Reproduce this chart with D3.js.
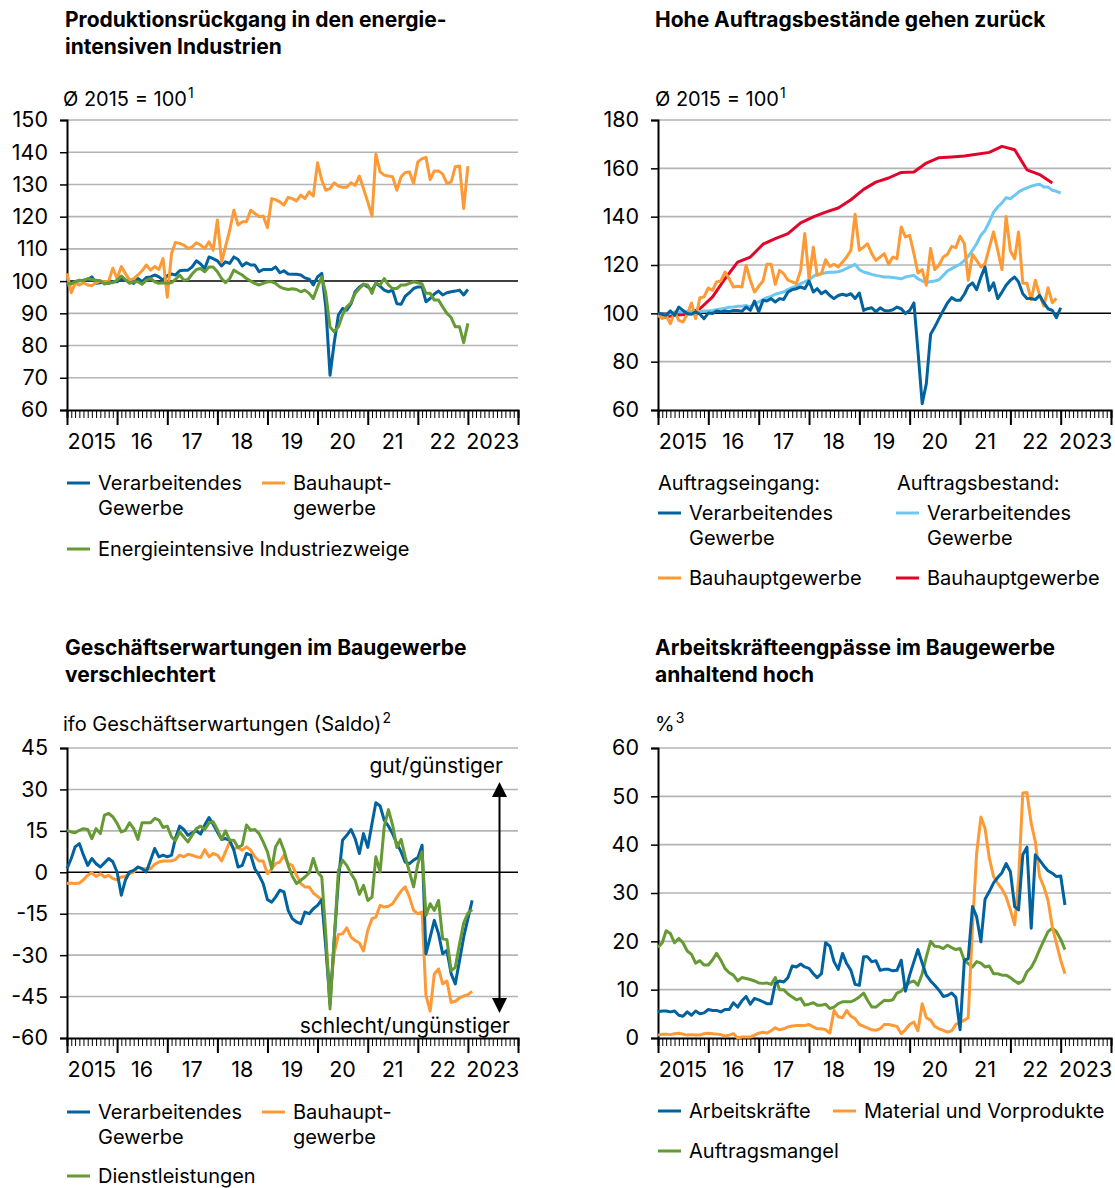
<!DOCTYPE html>
<html>
<head>
<meta charset="utf-8">
<script src="https://cdn.jsdelivr.net/npm/d3@7"></script>
<style>
  body { margin: 0; background: #fff; }
  svg { font-family: Inter, "Liberation Sans", sans-serif; }
</style>
</head>
<body>
<svg width="1115" height="1188"></svg>
<script>
// Colours
const BLUE = "#00629e", ORANGE = "#fd9a35", GREEN = "#669a35", LIGHTBLUE = "#6cc8f0", RED = "#e2052b";
const GRID = "#b4b4b4";
const TICK_FONT = 21.5;

// Year labels under the x axis
const yearLabels = ["2015", "16", "17", "18", "19", "20", "21", "22", "2023"];

// Panel 1: Produktion, monthly from Jan 2015 (Ø 2015 = 100)
const prodVerarbeitend = [98.4, 99.5, 99.8, 100.1, 100.3, 100.5, 101.3, 99.3, 99.5, 99.8,
  99.3, 99.8, 99.8, 100.8, 100.3, 99.8, 99.3, 100.8, 99.8, 101.1,
  101.3, 101.9, 101.3, 100.3, 101.7, 102.2, 101.9, 103.2, 103.4, 103.4,
  104.4, 106.3, 105.3, 103.9, 107.5, 107, 106.3, 104.7, 106, 105.5,
  107.5, 106.7, 104.7, 105.7, 105, 105, 102.9, 103.6, 103.6, 103.6,
  104.4, 102.6, 103.2, 102.2, 102.1, 102.1, 101.9, 101, 100.6, 98.8,
  101.3, 102.4, 92, 70.8, 80.7, 89.5, 91.5, 91, 93, 96.7,
  98.2, 99, 98.2, 97.2, 99.3, 98.4, 97.2, 96.7, 97.2, 93,
  92.8, 95.3, 96.4, 97.7, 98.2, 98.2, 93.6, 94.6, 96, 96.9,
  95.7, 96.4, 96.7, 96.9, 97.2, 95.7, 97.4];
const prodBau = [102.4, 96.4, 99.3, 98.8, 99.5, 98.8, 98.6, 99.5, 100, 99.8,
  100, 104, 100.8, 104.5, 102.4, 100.3, 100.8, 101.9, 103.2, 105,
  103.4, 104.5, 103.6, 107, 95, 108.6, 112, 111.7, 111.2, 110.1,
  110.6, 111.9, 111.2, 110.1, 112.2, 109.6, 119, 106, 110.6, 115.8,
  122, 117.4, 118.4, 118.4, 122, 121, 120, 120.2, 116.6, 125.6,
  125.3, 124.6, 123.6, 126, 125.6, 124.9, 126.7, 125.6, 127.7, 126.4,
  136.7, 131.3, 128.2, 128.7, 130.5, 129.5, 129.1, 129.1, 130.5, 129.7,
  132.6, 128.7, 124.6, 120.2, 139.4, 133.9, 132.9, 132.6, 132.4, 128.2,
  132.4, 133.7, 133.9, 130.3, 137, 138, 138.4, 131.5, 134.2, 134.2,
  133.2, 130.3, 130.8, 135.5, 135.7, 122.5, 135.7];
const prodEnergie = [99.3, 99.1, 99.8, 100.3, 100.1, 100.8, 100.5, 100.3, 100.1, 99.1,
  99.5, 99.5, 100.3, 101.6, 100.5, 99.3, 99.8, 99.8, 99, 100.3,
  100.8, 99.8, 99.3, 99.5, 99.3, 99.5, 100.5, 101.9, 100.3, 100.5,
  102.2, 103.6, 103.9, 102.9, 104.4, 104.4, 102.9, 100.8, 99.5, 100.8,
  103.4, 102.6, 101.9, 100.8, 100, 99.3, 98.8, 99.3, 99.8, 99.8,
  99.3, 98.2, 97.7, 97.4, 97.6, 97.4, 96.7, 97.2, 96.2, 94.6,
  98.2, 101.3, 96.2, 85.8, 84.3, 85.8, 89.5, 92, 93.3, 96.2,
  97.7, 99, 98.8, 96.2, 99.5, 98.8, 100.8, 98.8, 97.7, 97.7,
  98.8, 98.8, 99.3, 99.8, 99.5, 99.1, 96.2, 96.2, 94.1, 94.1,
  92, 90, 88.7, 85.8, 85.8, 80.9, 86.9];

// Panel 2: Auftragseingang (monthly) und Auftragsbestand
const eingangVerarbeitend = [100.1, 99.6, 99.2, 101, 99.2, 102.6, 101.2, 99.9, 99.6, 100.6,
  99.6, 97.8, 100.1, 99.9, 101, 100.6, 101, 100.7, 101.2, 101.2,
  100.8, 102.6, 101.2, 105.1, 100.6, 105.4, 105.1, 106.1, 104.7, 106.1,
  105.7, 108.8, 109.8, 110.2, 110.9, 110.2, 113.4, 108.8, 110.2, 108.1,
  109.2, 107.4, 106.1, 107.4, 107.9, 107.4, 108.1, 106.1, 108.4, 101.2,
  101.9, 102.3, 100.6, 102.3, 101.2, 101, 101.5, 102.6, 101.9, 99.9,
  101.2, 104.3, 84.7, 62.6, 70.9, 91.3, 94.3, 97.8, 101.2, 104.3,
  106.5, 105.4, 105.4, 107.9, 111.2, 112.6, 109.8, 115, 119.2, 109.5,
  112.6, 106.1, 108.8, 111.6, 113.7, 115, 113, 108.1, 106.1, 106.1,
  105.7, 107.4, 104.3, 101.9, 101.2, 98.2, 102.3];
const eingangBau = [99.2, 97.8, 99.2, 95.7, 100.6, 97.1, 96.4, 99.6, 104.3, 97.8,
  106.5, 106.8, 110.5, 109.5, 113, 113.4, 117.1, 114.3, 110.9, 111.2,
  110.9, 119.9, 113.7, 108.8, 111.2, 113.4, 120.3, 120.3, 112, 117.8,
  116.4, 113.7, 113, 112.3, 117.8, 133, 114.3, 127.4, 115.7, 116.4,
  122.2, 119.4, 120.3, 119.2, 121.2, 123.3, 126.1, 141, 126.1, 127.4,
  128.8, 124.7, 121.9, 123.3, 124.7, 120.3, 123.3, 122.6, 135.7, 131.6,
  132.3, 124.7, 116.7, 118.1, 111.6, 126.8, 118.1, 119.9, 123.3, 124.4,
  127.7, 127.2, 131.9, 128.8, 113.7, 124.4, 121.9, 119.2, 120.6, 127.2,
  133.7, 126.1, 118.1, 140.1, 125.8, 122.6, 133.7, 112.5, 112.5, 105.6,
  113.7, 107.5, 103, 110.6, 104.4, 106.2];
const bestandVerarbeitend = [99.6, 99.2, 99.6, 99.9, 100.3, 100.6, 100.6, 100.8, 100.8, 100.8,
  100.8, 101, 101, 101.2, 101.5, 101.8, 102.1, 102.5, 102.6, 102.9,
  102.9, 103.3, 102.6, 104, 104.7, 105.7, 106.5, 107, 107.9, 108.4,
  108.8, 109.8, 110.6, 111.3, 112.3, 113, 113.9, 115.3, 116.1, 116.4,
  116.8, 117, 117, 117.2, 117.8, 118.6, 119.4, 120.3, 118.1, 117.1,
  116.7, 116.1, 115.7, 115.4, 115, 115, 114.8, 114.6, 114.3, 115,
  115.4, 115.7, 114.3, 113.4, 112.6, 113.2, 113.4, 113.9, 115.7, 117.5,
  118.5, 119.4, 120.3, 121.9, 123.6, 126.1, 128.8, 132.3, 134.3, 137.8,
  141.9, 144, 145.7, 147.9, 147.4, 148.8, 150.2, 151.2, 151.9, 152.6,
  153.1, 153.4, 152.3, 152.3, 150.9, 150.5, 149.8];
// quarterly, plotted at the middle month of each quarter
const bestandBau = [98.2, 99.2, 99.6, 101.9, 106.8, 114.3, 121.2, 123.3, 128.6, 130.9,
  133, 137.4, 139.9, 141.9, 143.6, 147, 151.3, 154.3, 156, 158.3,
  158.5, 162.2, 164.4, 164.7, 165.1, 165.8, 166.6, 169.1, 167.7, 159.4,
  157.4, 153.9];

// Panel 3: ifo Geschäftserwartungen (Saldo), monthly from Jan 2015
const erwVerarbeitend = [1.3, 5, 9.2, 10.4, 6.2, 2.5, 5, 3.1, 1.9, 3.4,
  5, 3.8, 0.1, -8.3, -2.9, 0.1, 0.7, 1.9, 1.3, 0.1,
  4.4, 8.6, 5.6, 6.2, 5.6, 6.2, 12.2, 16.7, 15.5, 13.4,
  14.3, 15, 13.8, 17.1, 19.8, 17.4, 14.6, 11.9, 12.2, 11.6,
  8, 1.9, 2.5, 6.8, 6.2, 1.3, -1.1, -4.1, -9.9, -10.8,
  -9, -6.5, -7.1, -13.8, -16.8, -18, -18.6, -14.4, -15, -13.2,
  -12, -9.9, -27.1, -47.7, -24.7, -2.9, 11.6, 13.4, 15.5, 12.2,
  6.8, 14, 9, 17.7, 25.2, 24, 18.9, 16.7, 14, 10.4,
  7.4, 3.7, 3.1, 4.4, 5.3, 9.8, -29.5, -23.5, -17.4, -22.3,
  -29.5, -28.3, -36.8, -40.4, -31.9, -23.5, -16.8, -10.2];
const erwBau = [-4.1, -3.9, -4.1, -3.9, -2.7, -1.1, -0.2, -1.5, -0.5, -1.7,
  -1.1, -2.3, -2.7, -1.7, -1.5, -0.5, 0.1, 1.9, 1.3, 1.3,
  1.3, 2.9, 3.7, 4.1, 4.1, 4.1, 4.6, 6.2, 5.6, 6.5,
  6.2, 5.6, 5.3, 8.2, 5.6, 6.8, 6.2, 4.1, 7.4, 11,
  8.6, 9, 8, 9.2, 8, 5.6, 4.1, 4.1, -0.5, 1.3,
  3.1, 3.7, 6.2, 3.1, 2.5, -1, -4.1, -5.3, -5.3, -7.5,
  -8.7, -9.9, -24.7, -44, -29.5, -22.5, -22.3, -20.1, -23.5, -24.7,
  -25.6, -28.5, -21, -16.8, -16.2, -12, -12.6, -12.3, -11.4, -9,
  -6.8, -5.3, -9, -13.8, -15, -14.4, -44.6, -50.3, -36.8, -35,
  -40.4, -39.4, -47.1, -46.7, -45.5, -44.8, -44.3, -43.1];
const erwDienst = [15.2, 14.6, 14.3, 15.2, 15.8, 15.5, 12.2, 15.8, 14, 20.7,
  21.3, 20.1, 17.7, 14.6, 15.2, 17.9, 15.8, 11.9, 17.9, 17.9,
  17.9, 19.5, 18.9, 16.2, 16.7, 12.8, 11.4, 14.6, 12.8, 11,
  13.4, 15.8, 16.7, 15.5, 17.9, 18.3, 15.5, 11.9, 15, 11.6,
  11.6, 9, 9.8, 17.1, 15.2, 15.5, 14, 11, 7.4, 1.3,
  9.2, 11.9, 8, 2.5, -1.4, -4.1, -2.9, -1.7, -0.2, 5,
  0.1, -1.7, -22.3, -49.5, -24.7, 0.7, 4.4, 2.5, -0.5, -2.9,
  -8, -4.7, -10.2, -9, 5.6, 0.1, 16.5, 22.7, 17.1, 9,
  11.9, 5.6, 0.1, -5.3, 3.1, 7.4, -15.6, -11.4, -13.8, -10.2,
  -24.1, -24.4, -35.6, -34.4, -25.9, -18.4, -14.8, -13.5];

// Panel 4: Produktionsbehinderungen im Bau in %, monthly from Jan 2015
const engpassArbeit = [5.4, 5.6, 5.6, 5.4, 5.6, 4.7, 4.5, 5.4, 4.7, 5.6,
  5, 5.2, 5.9, 5.7, 5.7, 5.4, 5.9, 5.9, 7.3, 6.4,
  7.7, 8.6, 7, 8.2, 7.9, 7.5, 7.1, 7.1, 11.3, 11.8,
  11.6, 12.5, 14.9, 14.7, 15.3, 14.7, 14.4, 13.3, 12.5, 13.3,
  19.7, 19, 15.8, 14.2, 17.5, 15.4, 14, 11.1, 10.9, 16.8,
  16.8, 15.8, 16, 14, 14.2, 14.2, 13.9, 14, 16.1, 9.7,
  13, 15.8, 18.3, 15.5, 13, 11.8, 10.9, 9.9, 8.6, 8.8,
  9.3, 8.4, 1.7, 16.1, 16.4, 27.2, 25.1, 19.9, 28.7, 30.3,
  32.1, 33.2, 34.2, 36.1, 34.4, 27.2, 26.5, 37.9, 39.5, 22.7,
  37.9, 36.8, 35.6, 34.6, 34.1, 33.4, 33.5, 27.5];
const engpassMaterial = [0.6, 0.8, 0.8, 0.7, 0.9, 1, 0.8, 0.6, 0.7, 0.6,
  0.6, 0.9, 1, 0.9, 0.8, 0.7, 0.4, 0.6, 0.9, 0,
  0.2, 0.2, 0.2, 0.6, 1, 1.2, 1, 1.5, 2.1, 1.7,
  1.9, 2.3, 2.5, 2.6, 2.6, 2.6, 2.8, 2.3, 1.9, 1.9,
  1.7, 1, 5.7, 4.4, 4.2, 5.7, 4.5, 4, 2.8, 2.4,
  2.1, 1.7, 1.6, 1.9, 2.8, 2.8, 2.6, 2.4, 0.9, 1.7,
  2.8, 3.3, 1.5, 7.1, 4.2, 3.7, 2.4, 1.9, 1.6, 1.2,
  1.5, 2.8, 3.2, 3.7, 4.2, 23, 38.2, 45.7, 43.4, 37.2,
  33.4, 32, 30.8, 29.2, 26.5, 23.4, 32.7, 50.7, 50.8, 44.4,
  40.6, 33.4, 31.3, 28.5, 23, 19.6, 16.1, 13.3];
const engpassAuftrag = [18.7, 19.7, 22.2, 21.6, 19.7, 20.6, 19.7, 18, 17.3, 15.5,
  16, 15.1, 15.1, 16.2, 17.5, 16.1, 14.4, 13.5, 13, 11.8,
  12.5, 12.3, 12.1, 11.8, 11.4, 11.3, 11.4, 11.1, 12.5, 10,
  10, 9.1, 8.5, 7.9, 8.2, 6.8, 7, 7.3, 6.8, 6.8,
  7, 6.1, 6.4, 7.1, 7.5, 7.5, 7.5, 7.9, 8.5, 9.3,
  7.8, 6.4, 6.4, 7.1, 7.8, 7.7, 7.9, 9.3, 9.7, 10.7,
  11.5, 11.8, 10.9, 13.3, 16.8, 20, 19, 18.9, 18.5, 19.2,
  18.7, 18.3, 18.5, 16.1, 15.4, 14.7, 15.8, 15.5, 14.7, 14.9,
  13.3, 13.3, 13, 13, 12.5, 11.8, 11.3, 11.8, 13.7, 14.6,
  16.2, 18.3, 20.2, 22, 22.7, 22, 20.4, 18.3];

// date helpers
const monthly = values => values.map((v, i) => ({ date: new Date(2015, i, 1), value: v }));
const quarterly = values => values.map((v, i) => ({ date: new Date(2015, 1 + 3 * i, 1), value: v }));

const svg = d3.select("svg");

function drawPanel(p) {
  const g = svg.append("g");
  const x = d3.scaleTime()
    .domain([new Date(2015, 0, 1), new Date(2024, 0, 1)])
    .range([p.left, p.right]);
  const y = d3.scaleLinear().domain(p.yDomain).range([p.bottom, p.top]);

  // horizontal grid lines
  g.append("g").selectAll("line")
    .data(p.yTicks.filter(d => d !== p.yDomain[0] && d !== p.refLine))
    .join("line")
    .attr("x1", p.left).attr("x2", p.right)
    .attr("y1", d => y(d)).attr("y2", d => y(d))
    .attr("stroke", GRID).attr("stroke-width", 1.6);

  // reference line (100 or 0)
  if (p.refLine !== undefined) {
    g.append("line")
      .attr("x1", p.left).attr("x2", p.right)
      .attr("y1", y(p.refLine)).attr("y2", y(p.refLine))
      .attr("stroke", "#000").attr("stroke-width", 1.5);
  }

  // y axis
  const yAxis = g.append("g")
    .attr("transform", `translate(${p.left},0)`)
    .call(d3.axisLeft(y).tickValues(p.yTicks).tickSize(7).tickPadding(12)
      .tickFormat(d => String(d)));
  yAxis.select(".domain").attr("stroke-width", 2);
  yAxis.selectAll(".tick line").attr("stroke-width", 1.5);
  yAxis.selectAll("text").attr("font-size", TICK_FONT).attr("fill", "#000")
    .attr("font-family", "Inter, 'Liberation Sans', sans-serif");

  // x axis: monthly minor ticks, yearly major ticks
  const xMinor = g.append("g")
    .attr("transform", `translate(0,${p.bottom})`)
    .call(d3.axisBottom(x).ticks(d3.timeMonth.every(1)).tickSize(8).tickFormat(""));
  xMinor.select(".domain").attr("stroke-width", 2);
  xMinor.selectAll(".tick line").attr("stroke-width", 1);
  const xMajor = g.append("g")
    .attr("transform", `translate(0,${p.bottom})`)
    .call(d3.axisBottom(x).ticks(d3.timeYear.every(1)).tickSize(15).tickFormat(""));
  xMajor.select(".domain").remove();
  xMajor.selectAll(".tick line").attr("stroke-width", 2);

  // year labels centred on each year
  g.append("g").selectAll("text")
    .data(yearLabels)
    .join("text")
    .attr("x", (d, i) => x(new Date(2015 + i, 6, 1)))
    .attr("y", p.bottom + 39)
    .attr("text-anchor", "middle")
    .attr("font-size", TICK_FONT)
    .text(d => d);

  // series lines
  const line = d3.line().x(d => x(d.date)).y(d => y(d.value));
  p.series.forEach(s => {
    g.append("path")
      .datum(s.data)
      .attr("d", line)
      .attr("fill", "none")
      .attr("stroke", s.color)
      .attr("stroke-width", 3)
      .attr("stroke-linejoin", "round");
  });
  return { g, x, y };
}

function addText(x, y, txt, opts = {}) {
  const t = svg.append("text")
    .attr("x", x).attr("y", y)
    .attr("font-size", opts.size || 20)
    .attr("font-weight", opts.bold ? 700 : 400)
    .attr("text-anchor", opts.anchor || "start")
    .text(txt);
  if (opts.sup) {
    t.append("tspan").attr("font-size", 14).attr("dx", 1).attr("dy", -8).text(opts.sup);
  }
  return t;
}

function legendItem(x, y, color, lines) {
  svg.append("line")
    .attr("x1", x).attr("x2", x + 23)
    .attr("y1", y).attr("y2", y)
    .attr("stroke", color).attr("stroke-width", 3);
  lines.forEach((l, i) => addText(x + 31, y + 7 + i * 25, l));
}

// ---- Panel 1 ----
drawPanel({
  left: 67, right: 518, top: 120, bottom: 410,
  yDomain: [60, 150], yTicks: d3.range(60, 151, 10), refLine: 100,
  series: [
    { data: monthly(prodVerarbeitend), color: BLUE },
    { data: monthly(prodBau), color: ORANGE },
    { data: monthly(prodEnergie), color: GREEN }
  ]
});
addText(65, 27, "Produktionsrückgang in den energie-", { bold: true, size: 21 });
addText(65, 54, "intensiven Industrien", { bold: true, size: 21 });
addText(63, 106, "Ø 2015 = 100", { sup: "1" });
legendItem(67, 483, BLUE, ["Verarbeitendes", "Gewerbe"]);
legendItem(262, 483, ORANGE, ["Bauhaupt-", "gewerbe"]);
legendItem(67, 549, GREEN, ["Energieintensive Industriezweige"]);

// ---- Panel 2 ----
drawPanel({
  left: 658, right: 1111, top: 120, bottom: 410,
  yDomain: [60, 180], yTicks: d3.range(60, 181, 20), refLine: 100,
  series: [
    { data: quarterly(bestandBau), color: RED },
    { data: monthly(bestandVerarbeitend), color: LIGHTBLUE },
    { data: monthly(eingangBau), color: ORANGE },
    { data: monthly(eingangVerarbeitend), color: BLUE }
  ]
});
addText(655, 27, "Hohe Auftragsbestände gehen zurück", { bold: true, size: 21 });
addText(655, 106, "Ø 2015 = 100", { sup: "1" });
addText(658, 490, "Auftragseingang:");
addText(897, 490, "Auftragsbestand:");
legendItem(658, 513, BLUE, ["Verarbeitendes", "Gewerbe"]);
legendItem(896, 513, LIGHTBLUE, ["Verarbeitendes", "Gewerbe"]);
legendItem(658, 578, ORANGE, ["Bauhauptgewerbe"]);
legendItem(896, 578, RED, ["Bauhauptgewerbe"]);

// ---- Panel 3 ----
drawPanel({
  left: 67, right: 518, top: 748, bottom: 1038,
  yDomain: [-60, 45], yTicks: d3.range(-60, 46, 15), refLine: 0,
  series: [
    { data: monthly(erwBau), color: ORANGE },
    { data: monthly(erwVerarbeitend), color: BLUE },
    { data: monthly(erwDienst), color: GREEN }
  ]
});
addText(65, 655, "Geschäftserwartungen im Baugewerbe", { bold: true, size: 21 });
addText(65, 682, "verschlechtert", { bold: true, size: 21 });
addText(63, 731, "ifo Geschäftserwartungen (Saldo)", { sup: "2" });
addText(503, 773, "gut/günstiger", { anchor: "end", size: 21 });
addText(510, 1033, "schlecht/ungünstiger", { anchor: "end", size: 21 });
// double arrow
svg.append("line")
  .attr("x1", 499.5).attr("x2", 499.5).attr("y1", 792).attr("y2", 1003)
  .attr("stroke", "#000").attr("stroke-width", 2);
svg.append("path").attr("d", "M499.5,782 L492,797 L507,797 Z").attr("fill", "#000");
svg.append("path").attr("d", "M499.5,1013 L492,998 L507,998 Z").attr("fill", "#000");
legendItem(67, 1112, BLUE, ["Verarbeitendes", "Gewerbe"]);
legendItem(262, 1112, ORANGE, ["Bauhaupt-", "gewerbe"]);
legendItem(67, 1176, GREEN, ["Dienstleistungen"]);

// ---- Panel 4 ----
drawPanel({
  left: 658, right: 1111, top: 748, bottom: 1038,
  yDomain: [0, 60], yTicks: d3.range(0, 61, 10),
  series: [
    { data: monthly(engpassAuftrag), color: GREEN },
    { data: monthly(engpassMaterial), color: ORANGE },
    { data: monthly(engpassArbeit), color: BLUE }
  ]
});
addText(655, 655, "Arbeitskräfteengpässe im Baugewerbe", { bold: true, size: 21 });
addText(655, 682, "anhaltend hoch", { bold: true, size: 21 });
addText(655, 731, "%", { sup: "3" });
legendItem(658, 1111, BLUE, ["Arbeitskräfte"]);
legendItem(833, 1111, ORANGE, ["Material und Vorprodukte"]);
legendItem(658, 1151, GREEN, ["Auftragsmangel"]);
</script>
</body>
</html>
